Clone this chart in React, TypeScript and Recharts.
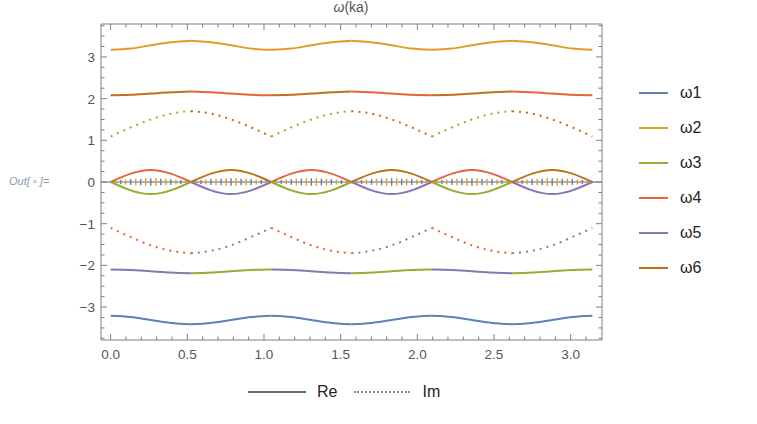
import { ErrorBar, Line, LineChart, ReferenceLine, XAxis, YAxis } from "recharts";

const COLORS: Record<string, string> = {
  w1: "#5e81b5",
  w2: "#e19c24",
  w3: "#8fb032",
  w4: "#eb6235",
  w5: "#8778b3",
  w6: "#c56e1a",
};
const LEGEND = [
  { key: "w1", label: "ω1" },
  { key: "w2", label: "ω2" },
  { key: "w3", label: "ω3" },
  { key: "w4", label: "ω4" },
  { key: "w5", label: "ω5" },
  { key: "w6", label: "ω6" },
];

// ka samples, 0..π
const ka = [
  0, 0.1309, 0.2618, 0.3927, 0.5236, 0.6545, 0.7854, 0.9163, 1.0472, 1.1781, 1.309, 1.4399, 1.5708,
  1.7017, 1.8326, 1.9635, 2.0944, 2.2253, 2.3562, 2.4871, 2.618, 2.7489, 2.8798, 3.0107, 3.1416,
];

const topRe = [
  3.17, 3.2, 3.28, 3.35, 3.39, 3.35, 3.28, 3.2, 3.17, 3.2, 3.28, 3.35, 3.39, 3.35, 3.28, 3.2, 3.17, 3.2,
  3.28, 3.35, 3.39, 3.35, 3.28, 3.2, 3.17,
];
const upperRe = [
  2.08, 2.09, 2.12, 2.15, 2.17, 2.15, 2.12, 2.09, 2.08, 2.09, 2.12, 2.15, 2.17, 2.15, 2.12, 2.09, 2.08, 2.09,
  2.12, 2.15, 2.17, 2.15, 2.12, 2.09, 2.08,
];
const upperIm = [
  1.09, 1.31, 1.5, 1.64, 1.7, 1.64, 1.5, 1.31, 1.09, 1.31, 1.5, 1.64, 1.7, 1.64, 1.5, 1.31, 1.09, 1.31, 1.5,
  1.64, 1.7, 1.64, 1.5, 1.31, 1.09,
];
const lobeUp = [
  0, 0.2, 0.29, 0.2, 0, 0.2, 0.29, 0.2, 0, 0.2, 0.29, 0.2, 0, 0.2, 0.29, 0.2, 0, 0.2, 0.29, 0.2, 0, 0.2, 0.29,
  0.2, 0,
];
const lobeDown = [
  0, -0.2, -0.29, -0.2, 0, -0.2, -0.29, -0.2, 0, -0.2, -0.29, -0.2, 0, -0.2, -0.29, -0.2, 0, -0.2, -0.29, -0.2,
  0, -0.2, -0.29, -0.2, 0,
];
const lowerIm = [
  -1.1, -1.32, -1.52, -1.65, -1.71, -1.65, -1.52, -1.32, -1.1, -1.32, -1.52, -1.65, -1.71, -1.65, -1.52, -1.32,
  -1.1, -1.32, -1.52, -1.65, -1.71, -1.65, -1.52, -1.32, -1.1,
];
const lowerRe = [
  -2.1, -2.11, -2.14, -2.17, -2.19, -2.17, -2.14, -2.11, -2.1, -2.11, -2.14, -2.17, -2.19, -2.17, -2.14, -2.11,
  -2.1, -2.11, -2.14, -2.17, -2.19, -2.17, -2.14, -2.11, -2.1,
];
const bottomRe = [
  -3.21, -3.24, -3.31, -3.38, -3.41, -3.38, -3.31, -3.24, -3.21, -3.24, -3.31, -3.38, -3.41, -3.38, -3.31,
  -3.24, -3.21, -3.24, -3.31, -3.38, -3.41, -3.38, -3.31, -3.24, -3.21,
];

// which ω owns each of the six π/6 segments
const topOwner = ["w2", "w2", "w2", "w2", "w2", "w2"];
const upperReOwner = ["w6", "w4", "w6", "w4", "w6", "w4"];
const upperImOwner = ["w3", "w6", "w3", "w6", "w3", "w6"];
const lobeUpOwner = ["w4", "w6", "w4", "w6", "w4", "w6"];
const lobeDownOwner = ["w3", "w5", "w3", "w5", "w3", "w5"];
const lowerImOwner = ["w4", "w5", "w4", "w5", "w4", "w5"];
const lowerReOwner = ["w5", "w3", "w5", "w3", "w5", "w3"];
const bottomOwner = ["w1", "w1", "w1", "w1", "w1", "w1"];

// small Im ≈ 0 ripple near the axis
const imNoiseBlue = [
  0.02, 0.05, 0.07, 0.08, 0.09, 0.08, 0.07, 0.05, 0.02, 0.05, 0.07, 0.08, 0.09, 0.08, 0.07, 0.05, 0.02, 0.05,
  0.07, 0.08, 0.09, 0.08, 0.07, 0.05, 0.02, 0.05, 0.07, 0.08, 0.09, 0.08, 0.07, 0.05, 0.02, 0.05, 0.07, 0.08,
  0.09, 0.08, 0.07, 0.05, 0.02, 0.05, 0.07, 0.08, 0.09, 0.08, 0.07, 0.05, 0.02,
];
const imNoiseOrange = [
  0.04, 0.06, 0.08, 0.09, 0.09, 0.08, 0.06, 0.04, 0.04, 0.06, 0.08, 0.09, 0.09, 0.08, 0.06, 0.04, 0.04, 0.06,
  0.08, 0.09, 0.09, 0.08, 0.06, 0.04, 0.04, 0.06, 0.08, 0.09, 0.09, 0.08, 0.06, 0.04, 0.04, 0.06, 0.08, 0.09,
  0.09, 0.08, 0.06, 0.04, 0.04, 0.06, 0.08, 0.09, 0.09, 0.08, 0.06, 0.04,
];

const xMajorTicks = [0, 0.5, 1, 1.5, 2, 2.5, 3];
const xMinorTicks = [
  0.1, 0.2, 0.3, 0.4, 0.6, 0.7, 0.8, 0.9, 1.1, 1.2, 1.3, 1.4, 1.6, 1.7, 1.8, 1.9, 2.1, 2.2, 2.3, 2.4, 2.6, 2.7,
  2.8, 2.9, 3.1,
];
const yMajorTicks = [-3, -2, -1, 0, 1, 2, 3];
const yMinorTicks = [
  -3.75, -3.5, -3.25, -2.75, -2.5, -2.25, -1.75, -1.5, -1.25, -0.75, -0.5, -0.25, 0.25, 0.5, 0.75, 1.25, 1.5,
  1.75, 2.25, 2.5, 2.75, 3.25, 3.5, 3.75,
];

const X_DOMAIN = [-0.0628, 3.2044];
const Y_DOMAIN = [-3.79, 3.79];
const FRAME = "#808080";
const LABEL = "#555";
const FONT = "'Liberation Sans', Arial, sans-serif";

const bands = [
  { id: "topRe", values: topRe, owners: topOwner, im: false, curve: "monotone" },
  { id: "upperRe", values: upperRe, owners: upperReOwner, im: false, curve: "monotone" },
  { id: "upperIm", values: upperIm, owners: upperImOwner, im: true, curve: "monotone" },
  { id: "lobeUp", values: lobeUp, owners: lobeUpOwner, im: false, curve: "natural" },
  { id: "lobeDown", values: lobeDown, owners: lobeDownOwner, im: false, curve: "natural" },
  { id: "lowerIm", values: lowerIm, owners: lowerImOwner, im: true, curve: "monotone" },
  { id: "lowerRe", values: lowerRe, owners: lowerReOwner, im: false, curve: "monotone" },
  { id: "bottomRe", values: bottomRe, owners: bottomOwner, im: false, curve: "monotone" },
];

const DENSE = 96;
const rows: any[] = [];
for (let i = 0; i <= DENSE; i++) {
  const row: any = { ka: (i * Math.PI) / DENSE, zero: 0, blueErr: null, orangeErr: null };
  if (i % 2 === 0) row.blueErr = imNoiseBlue[i / 2];
  else row.orangeErr = imNoiseOrange[(i - 1) / 2];
  if (i % 4 === 0) {
    const j = i / 4;
    row.ka = ka[j];
    bands.forEach((b) => {
      for (let s = 0; s < 6; s++) {
        if (j >= 4 * s && j <= 4 * s + 4) row[`${b.id}_${s}`] = b.values[j];
      }
    });
  }
  rows.push(row);
}

const series = bands.flatMap((b) =>
  b.owners.map((o, s) => ({ key: `${b.id}_${s}`, color: COLORS[o], im: b.im, curve: b.curve })),
);

const fmtY = (v: number) => (v < 0 ? `\u2212${Math.abs(v)}` : String(v));

function FrameTick(props: any) {
  const { x, y, payload, side, majors, labels } = props;
  const v = payload.value;
  const major = majors.includes(v);
  const len = major ? 6 : 3.5;
  let c = [x, y, x, y - len];
  if (side === "top") c = [x, y, x, y + len];
  if (side === "left") c = [x, y, x + len, y];
  if (side === "right") c = [x, y, x - len, y];
  return (
    <g>
      <line x1={c[0]} y1={c[1]} x2={c[2]} y2={c[3]} stroke={FRAME} strokeWidth={1} />
      {labels && major && side === "bottom" && (
        <text x={x} y={y + 18.5} textAnchor="middle" fill={LABEL} fontSize={13.5} fontFamily={FONT}>
          {v.toFixed(1)}
        </text>
      )}
      {labels && major && side === "left" && (
        <text x={x - 6} y={y + 5} textAnchor="end" fill={LABEL} fontSize={13.5} fontFamily={FONT}>
          {fmtY(v)}
        </text>
      )}
    </g>
  );
}

const xTicks = [...xMajorTicks, ...xMinorTicks].sort((a, b) => a - b);
const yTicks = [...yMajorTicks, ...yMinorTicks].sort((a, b) => a - b);

export default function App() {
  return (
    <div style={{ position: "absolute", left: 0, top: 0, width: 757, height: 424, background: "#fff", fontFamily: FONT }}>
      <div style={{ position: "absolute", left: 301, width: 100, top: -1, textAlign: "center", fontSize: 14, color: LABEL }}>
        <span style={{ fontStyle: "italic" }}>ω</span>(ka)
      </div>
      <div style={{ position: "absolute", left: 9, top: 175, fontSize: 11, fontStyle: "italic", color: "#8a98b0" }}>
        Out[ ▫ ]=
      </div>
      <LineChart width={757} height={424} data={rows} margin={{ top: 23, right: 154, bottom: 60, left: 71 }}>
        <XAxis
          xAxisId="b"
          type="number"
          dataKey="ka"
          domain={X_DOMAIN}
          allowDataOverflow
          ticks={xTicks}
          interval={0}
          tickSize={0}
          tickMargin={0}
          tickLine={false}
          axisLine={{ stroke: FRAME }}
          height={24}
          tick={<FrameTick side="bottom" majors={xMajorTicks} labels />}
        />
        <XAxis
          xAxisId="t"
          orientation="top"
          type="number"
          dataKey="ka"
          domain={X_DOMAIN}
          allowDataOverflow
          ticks={xTicks}
          interval={0}
          tickSize={0}
          tickMargin={0}
          tickLine={false}
          axisLine={{ stroke: FRAME }}
          height={1}
          tick={<FrameTick side="top" majors={xMajorTicks} />}
        />
        <YAxis
          yAxisId="l"
          type="number"
          domain={Y_DOMAIN}
          allowDataOverflow
          ticks={yTicks}
          interval={0}
          tickSize={0}
          tickMargin={0}
          tickLine={false}
          axisLine={{ stroke: FRAME }}
          width={30}
          tick={<FrameTick side="left" majors={yMajorTicks} labels />}
        />
        <YAxis
          yAxisId="r"
          orientation="right"
          type="number"
          domain={Y_DOMAIN}
          allowDataOverflow
          ticks={yTicks}
          interval={0}
          tickSize={0}
          tickMargin={0}
          tickLine={false}
          axisLine={{ stroke: FRAME }}
          width={1}
          tick={<FrameTick side="right" majors={yMajorTicks} />}
        />
        <ReferenceLine xAxisId="b" yAxisId="l" y={0} stroke="#666" strokeWidth={1.2} />
        <Line
          xAxisId="b"
          yAxisId="l"
          dataKey="zero"
          stroke="none"
          dot={false}
          activeDot={false}
          connectNulls
          isAnimationActive={false}
        >
          <ErrorBar dataKey="blueErr" direction="y" width={0} stroke={COLORS.w1} strokeWidth={1.4} isAnimationActive={false} />
          <ErrorBar dataKey="orangeErr" direction="y" width={0} stroke={COLORS.w2} strokeWidth={1.4} isAnimationActive={false} />
        </Line>
        {series.map((s) => (
          <Line
            key={s.key}
            xAxisId="b"
            yAxisId="l"
            type={s.curve as any}
            dataKey={s.key}
            stroke={s.color}
            strokeWidth={2}
            strokeDasharray={s.im ? "2 5" : undefined}
            dot={false}
            activeDot={false}
            connectNulls
            isAnimationActive={false}
          />
        ))}
      </LineChart>
      {LEGEND.map((l, i) => (
        <div key={l.key} style={{ position: "absolute", left: 639, top: 93 + i * 35 - 10, height: 20, display: "flex", alignItems: "center" }}>
          <div style={{ width: 29, height: 2.5, background: COLORS[l.key] }} />
          <span style={{ marginLeft: 12, fontSize: 16, color: "#222" }}>{l.label}</span>
        </div>
      ))}
      <div style={{ position: "absolute", left: 248, top: 382, height: 20, display: "flex", alignItems: "center", fontSize: 16, color: "#222" }}>
        <div style={{ width: 58, height: 2, background: "#6a6a6a" }} />
        <span style={{ marginLeft: 11 }}>Re</span>
        <div style={{ width: 56, marginLeft: 17, borderTop: "2px dotted #8a8a8a" }} />
        <span style={{ marginLeft: 12 }}>Im</span>
      </div>
    </div>
  );
}
